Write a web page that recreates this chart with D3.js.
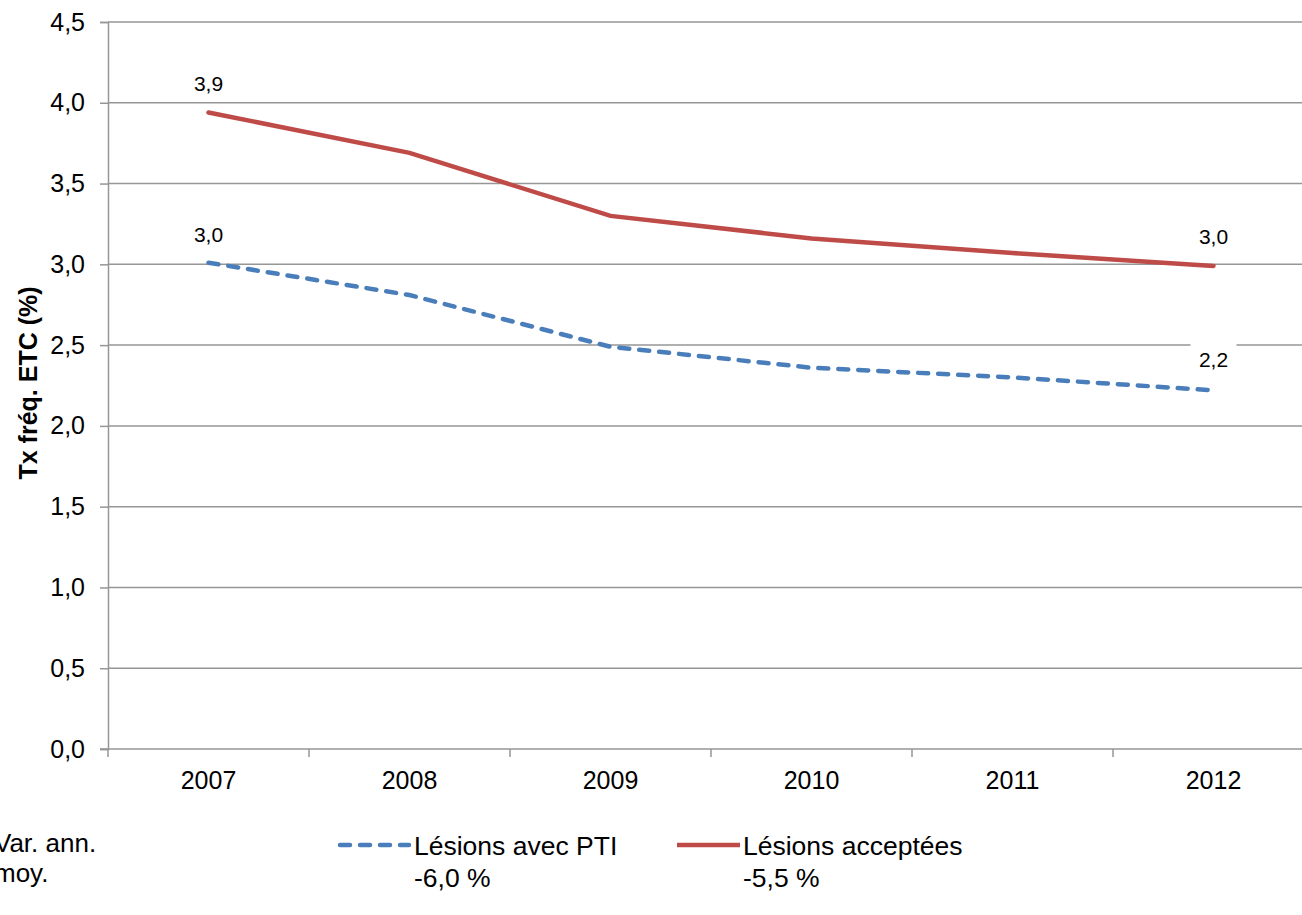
<!DOCTYPE html>
<html>
<head>
<meta charset="utf-8">
<title>Tx fréq. ETC</title>
<script src="https://d3js.org/d3.v7.min.js"></script>
<style>
  * { margin: 0; padding: 0; }
  body { background: #fff; overflow: hidden; }
  text { font-family: "Liberation Sans", Arial, sans-serif; fill: #000; }
</style>
</head>
<body>
<div id="chart"></div>
<script>
// données
const years = ["2007", "2008", "2009", "2010", "2011", "2012"];
const acceptees = [3.94, 3.69, 3.30, 3.16, 3.07, 2.99];
const avecPTI = [3.01, 2.81, 2.49, 2.36, 2.30, 2.22];
const yTicks = [0, 0.5, 1, 1.5, 2, 2.5, 3, 3.5, 4, 4.5];
const seriesNames = ["Lésions avec PTI", "Lésions acceptées"];
const varAnn = ["-6,0 %", "-5,5 %"];

const W = 1302, H = 915;
const mLeft = 108, mTop = 22, mBottom = 749;
const band = 201;
const gridCol = "#969696";

const svg = d3.select("#chart").append("svg")
  .attr("width", W).attr("height", H);

const x = d3.scaleBand().domain(years).range([mLeft, mLeft + band * years.length]);
const y = d3.scaleLinear().domain([0, 4.5]).range([mBottom, mTop]);
const fmt = v => d3.format(".1f")(v).replace(".", ",");
const cx = i => x(years[i]) + x.bandwidth() / 2;

// grille
svg.append("g").selectAll("line").data(yTicks.filter(d => d > 0)).join("line")
  .attr("x1", mLeft).attr("x2", W)
  .attr("y1", d => y(d)).attr("y2", d => y(d))
  .attr("stroke", gridCol).attr("stroke-width", 1.5);

// axe Y
const yAxis = svg.append("g").attr("transform", `translate(${mLeft},0)`)
  .call(d3.axisLeft(y).tickValues(yTicks).tickFormat(fmt).tickSize(8).tickPadding(15));
yAxis.select(".domain").attr("stroke", gridCol).attr("stroke-width", 1.5);
yAxis.selectAll(".tick line").attr("stroke", gridCol).attr("stroke-width", 1.5);
yAxis.selectAll(".tick text").style("font-size", "25px")
  .style("font-family", "'Liberation Sans', Arial, sans-serif").attr("fill", "#000");

// axe X
const xg = svg.append("g").attr("transform", `translate(0,${mBottom})`);
xg.append("line").attr("x1", mLeft - 8).attr("x2", W)
  .attr("stroke", gridCol).attr("stroke-width", 1.5);
xg.selectAll(".tk").data(years.map((d, i) => mLeft + band * i)).join("line")
  .attr("class", "tk").attr("x1", d => d).attr("x2", d => d)
  .attr("y1", 0).attr("y2", 8).attr("stroke", gridCol).attr("stroke-width", 1.5);
xg.selectAll("text").data(years).join("text")
  .attr("x", d => x(d) + x.bandwidth() / 2).attr("y", 40)
  .attr("text-anchor", "middle").style("font-size", "25px").text(d => d);

// titre axe Y
svg.append("text")
  .attr("transform", `translate(37,383) rotate(-90)`)
  .attr("text-anchor", "middle")
  .style("font-size", "25px").style("font-weight", "bold")
  .text("Tx fréq. ETC (%)");

const line = d3.line().x((d, i) => cx(i)).y(d => y(d));

svg.append("path").datum(avecPTI).attr("d", line)
  .attr("fill", "none").attr("stroke", "#4a7ebb").attr("stroke-width", 4.5)
  .attr("stroke-dasharray", "10,10").attr("stroke-linecap", "round");

svg.append("path").datum(acceptees).attr("d", line)
  .attr("fill", "none").attr("stroke", "#be4b48").attr("stroke-width", 4.5)
  .attr("stroke-linecap", "round");

// étiquettes
function label(i, v, dy, bg) {
  const g = svg.append("g");
  if (bg) {
    g.append("rect").attr("x", cx(i) - 23).attr("y", y(v) + dy - 24)
      .attr("width", 46).attr("height", 32).attr("fill", "#fff");
  }
  g.append("text").attr("x", cx(i)).attr("y", y(v) + dy)
    .attr("text-anchor", "middle").style("font-size", "21px").text(fmt(v));
}
label(0, acceptees[0], -21, false);
label(0, avecPTI[0], -21, false);
label(5, acceptees[5], -22, false);
label(5, avecPTI[5], -23, true);

// légende
const lg = svg.append("g");
lg.append("text").attr("x", -6).attr("y", 852).style("font-size", "26px").text("Var. ann.");
lg.append("text").attr("x", -6).attr("y", 882).style("font-size", "26px").text("moy.");

lg.append("line").attr("x1", 340).attr("x2", 409).attr("y1", 845).attr("y2", 845)
  .attr("stroke", "#4a7ebb").attr("stroke-width", 4.5)
  .attr("stroke-dasharray", "10,10").attr("stroke-linecap", "round");
lg.append("line").attr("x1", 677).attr("x2", 740).attr("y1", 845).attr("y2", 845)
  .attr("stroke", "#be4b48").attr("stroke-width", 4.5);

[[414, 0], [743, 1]].forEach(([lx, k]) => {
  lg.append("text").attr("x", lx).attr("y", 855).style("font-size", "26.5px").text(seriesNames[k]);
  lg.append("text").attr("x", lx).attr("y", 887).style("font-size", "26.5px").text(varAnn[k]);
});
</script>
</body>
</html>
